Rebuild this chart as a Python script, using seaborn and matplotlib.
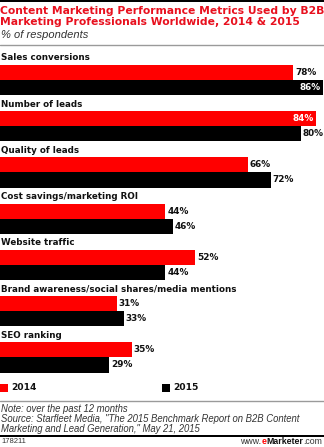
import matplotlib
matplotlib.use("Agg")
import matplotlib.pyplot as plt
import matplotlib.patches as mpatches
from matplotlib.lines import Line2D
import seaborn as sns
import pandas as pd

# ---- data ----
metrics = [
    "Sales conversions",
    "Number of leads",
    "Quality of leads",
    "Cost savings/marketing ROI",
    "Website traffic",
    "Brand awareness/social shares/media mentions",
    "SEO ranking",
]
years = ["2014", "2015"]
values_2014 = [78, 84, 66, 44, 52, 31, 35]
values_2015 = [86, 80, 72, 46, 44, 33, 29]

title_lines = [
    "Content Marketing Performance Metrics Used by B2B",
    "Marketing Professionals Worldwide, 2014 & 2015",
]
subtitle = "% of respondents"
note_lines = [
    "Note: over the past 12 months",
    "Source: Starfleet Media, \"The 2015 Benchmark Report on B2B Content",
    "Marketing and Lead Generation,\" May 21, 2015",
]
chart_id = "178211"

RED = "#FF0000"
BLACK = "#000000"
TITLE_RED = "#E8101E"
TEXT = "#111111"
GREY_TEXT = "#333333"

W, H = 324, 447
DPI = 100

df = pd.DataFrame({
    "metric": metrics * 2,
    "year": [years[0]] * len(metrics) + [years[1]] * len(metrics),
    "value": values_2014 + values_2015,
})

sns.set_theme(style="white")
plt.rcParams["font.family"] = ["DejaVu Sans"]

fig = plt.figure(figsize=(W / DPI, H / DPI), dpi=DPI)
fig.patch.set_facecolor("white")
renderer = fig.canvas.get_renderer()


def fy(px):
    """Pixel row from top -> figure fraction."""
    return 1 - px / H


def fx(px):
    return px / W


def fit_width(texts, target_px):
    """Scale the font size of a group of texts so the widest spans target_px."""
    widest = max(t.get_window_extent(renderer=renderer).width for t in texts)
    scale = target_px / widest
    for t in texts:
        t.set_fontsize(t.get_fontsize() * scale)


# ---- bar axes ----
y_top_px, y_bot_px = 45.3, 380.6
ax = fig.add_axes([0, fy(y_bot_px), 1, (y_bot_px - y_top_px) / H])
sns.barplot(data=df, y="metric", x="value", hue="year", order=metrics,
            hue_order=years, palette={years[0]: RED, years[1]: BLACK},
            orient="h", width=0.65, saturation=1, linewidth=0,
            legend=False, ax=ax)
ax.set_xlim(0, 86.2)
ax.set_ylim(6.5, -0.75)
ax.axis("off")

# category labels above each group
cat_texts = [ax.text(0.3, i - 0.48, m, ha="left", va="center", fontsize=7,
                     fontweight="bold", color=TEXT)
             for i, m in enumerate(metrics)]
fit_width(cat_texts, 237)

# value labels
for cont in ax.containers:
    for bar in cont:
        v = bar.get_width()
        yc = bar.get_y() + bar.get_height() / 2
        lbl = f"{v:.0f}%"
        if v >= 82:
            ax.text(v - 0.6, yc, lbl, ha="right", va="center", fontsize=6.4,
                    fontweight="bold", color="white")
        else:
            ax.text(v + 0.5, yc, lbl, ha="left", va="center", fontsize=6.4,
                    fontweight="bold", color=TEXT)

# ---- header ----
fig.add_artist(mpatches.Rectangle((0, fy(2.2)), 1, 2.2 / H, transform=fig.transFigure,
                                  color=BLACK, lw=0))
title_texts = [
    fig.text(fx(0.5), fy(10.5), title_lines[0], ha="left", va="center", fontsize=8,
             fontweight="bold", color=TITLE_RED),
    fig.text(fx(0.5), fy(22), title_lines[1], ha="left", va="center", fontsize=8,
             fontweight="bold", color=TITLE_RED),
]
fit_width(title_texts, 322)
fig.text(fx(1), fy(35), subtitle, ha="left", va="center", fontsize=8,
         style="italic", family=["Liberation Sans"], color=GREY_TEXT)
fig.add_artist(Line2D([0, 1], [fy(45), fy(45)], transform=fig.transFigure,
                      color="#9a9a9a", lw=1))

# ---- legend ----
leg_y = 388
for x0, lab, col in [(0, years[0], RED), (162, years[1], BLACK)]:
    fig.add_artist(mpatches.Rectangle((fx(x0), fy(leg_y + 4)), 7.5 / W, 8 / H,
                                      transform=fig.transFigure, color=col, lw=0))
    fig.text(fx(x0 + 11), fy(leg_y), lab, ha="left", va="center", fontsize=6.6,
             fontweight="bold", color=TEXT)

# ---- footer ----
fig.add_artist(Line2D([0, 1], [fy(400.5), fy(400.5)], transform=fig.transFigure,
                      color="#9a9a9a", lw=1))
note_texts = [fig.text(fx(1), fy(408.5 + 10 * k), line, ha="left", va="center",
                       fontsize=7.4, style="italic", family=["Liberation Sans"],
                       color=GREY_TEXT)
              for k, line in enumerate(note_lines)]
fit_width(note_texts, 301)
fig.add_artist(mpatches.Rectangle((0, fy(436.5)), 1, 1.6 / H, transform=fig.transFigure,
                                  color=BLACK, lw=0))
fig.text(fx(1), fy(441.5), chart_id, ha="left", va="center", fontsize=5.5,
         family=["Liberation Sans"], color=GREY_TEXT)

# right-aligned brand mark built from pieces
x_right = fx(322)
pieces = [(".com", "normal", GREY_TEXT), ("Marketer", "bold", TEXT),
          ("e", "bold", RED), ("www.", "normal", GREY_TEXT)]
for txt, wt, col in pieces:
    t = fig.text(x_right, fy(441.5), txt, ha="right", va="center", fontsize=6.3,
                 fontweight=wt, family=["Liberation Sans"], color=col)
    bb = t.get_window_extent(renderer=renderer)
    x_right -= bb.width / W

fig.savefig("out.png", dpi=DPI, facecolor="white")
